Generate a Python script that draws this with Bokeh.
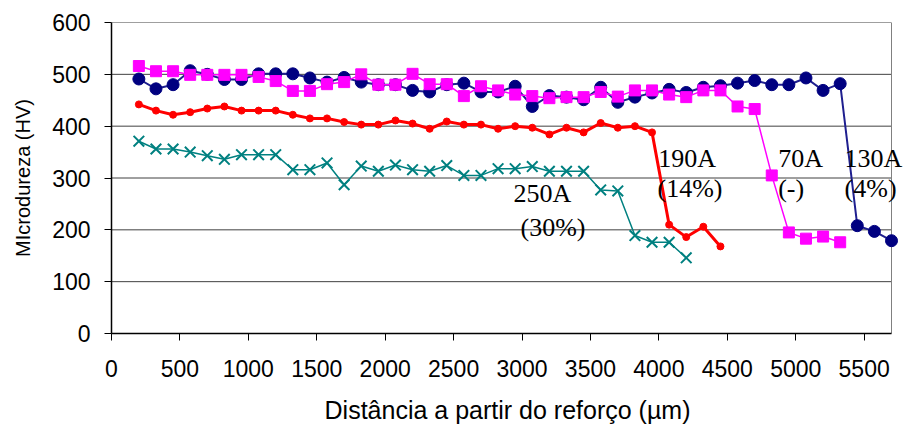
from bokeh.plotting import figure
from bokeh.models import Range1d, FixedTicker, Label
from bokeh.embed import file_html
from bokeh.resources import INLINE

# Distance from reinforcement (µm)
distance = [200, 325, 450, 575, 700, 825, 950, 1075, 1200, 1325, 1450, 1575,
            1700, 1825, 1950, 2075, 2200, 2325, 2450, 2575, 2700, 2825, 2950,
            3075, 3200, 3325, 3450, 3575, 3700, 3825, 3950, 4075, 4200, 4325,
            4450, 4575, 4700, 4825, 4950, 5075, 5200, 5325, 5450, 5575, 5700]

# Microhardness (HV) per series
hv_130A = [491, 472, 480, 507, 500, 490, 490, 501, 501, 501, 493, 485, 494,
           485, 480, 480, 469, 466, 480, 483, 466, 466, 477, 438, 459, 456,
           451, 475, 446, 456, 464, 471, 465, 475, 478, 483, 488, 480, 480,
           493, 469, 482, 208, 197, 179]
hv_70A = [516, 506, 506, 499, 499, 499, 499, 495, 487, 468, 468, 481, 485,
          500, 480, 480, 501, 481, 481, 458, 477, 469, 461, 458, 454, 456,
          456, 466, 457, 469, 469, 461, 456, 469, 469, 438, 433, 305, 195,
          183, 187, 176]
hv_190A = [442, 430, 422, 427, 434, 438, 430, 430, 430, 422, 415, 415, 408,
           403, 403, 411, 405, 395, 409, 403, 403, 395, 400, 397, 384, 397,
           388, 406, 397, 400, 388, 210, 186, 206, 168]
hv_250A = [371, 356, 356, 350, 343, 336, 345, 345, 345, 316, 316, 329, 287,
           323, 313, 325, 316, 313, 324, 305, 305, 318, 318, 322, 313, 313,
           313, 277, 275, 189, 176, 176, 146]

x_ticks = [0, 500, 1000, 1500, 2000, 2500, 3000, 3500, 4000, 4500, 5000, 5500]
y_ticks = [0, 100, 200, 300, 400, 500, 600]
x_min, x_max = 0, 5700
y_min, y_max = 0, 600

# Annotation labels (text, x, y in data units)
label_text = ["250A", "(30%)", "190A", "(14%)", "70A", "(-)", "130A", "(4%)"]
label_x = [2938, 2989, 3995, 3990, 4872, 4872, 5357, 5357]
label_y = [270, 205, 338, 280, 338, 280, 338, 280]

# Plot-area geometry (pixels): the frame runs past the x axis end so that
# the right-hand labels are not clipped; the axis itself stops at x_max.
W, H = 903, 430
left, top, bottom = 111, 22, 97
axis_px = 780                      # pixel length of the 0..x_max axis
frame_px = W - left                # frame width (no right border)
x_end = x_max * frame_px / axis_px

p = figure(width=W, height=H, output_backend="svg", toolbar_location=None,
           x_range=Range1d(x_min, x_end), y_range=Range1d(y_min, y_max),
           min_border_left=left, min_border_right=0, min_border_top=top,
           min_border_bottom=bottom)
p.background_fill_color = "white"
p.border_fill_color = "white"
p.outline_line_color = None

p.xgrid.visible = False
p.ygrid.visible = False

# horizontal gridlines and right border of the plot area, limited to axis extent
p.segment(x0=[x_min] * len(y_ticks), y0=y_ticks, x1=[x_max] * len(y_ticks),
          y1=y_ticks, line_color="#404040", line_width=1)
p.segment(x0=[x_max], y0=[y_min], x1=[x_max], y1=[y_max],
          line_color="#808080", line_width=1)

for ax, ticks in ((p.xaxis[0], x_ticks), (p.yaxis[0], y_ticks)):
    ax.ticker = FixedTicker(ticks=ticks)
    ax.axis_line_color = "black"
    ax.axis_line_width = 1.5
    ax.major_tick_line_color = "black"
    ax.major_tick_out = 7
    ax.major_tick_in = 0
    ax.minor_tick_line_color = None
    ax.major_label_text_font = "Liberation Sans"
    ax.major_label_text_font_size = "23px"
    ax.major_label_text_color = "black"
    ax.axis_label_text_font = "Liberation Sans"
    ax.axis_label_text_font_style = "normal"
    ax.axis_label_text_color = "black"

p.xaxis.bounds = (x_min, x_max)
p.xaxis.axis_label = "Distância a partir do reforço (µm)"
p.xaxis.axis_label_text_font_size = "25px"
p.xaxis.major_label_standoff = 19
p.xaxis.axis_label_standoff = 16
p.yaxis.axis_label = "MIcrodureza (HV)"
p.yaxis.axis_label_text_font_size = "20px"
p.yaxis.major_label_standoff = 14
p.yaxis.axis_label_standoff = 15

# 130A - navy circles
p.line(distance[:len(hv_130A)], hv_130A, line_color="#1F1F8F", line_width=2)
p.scatter(distance[:len(hv_130A)], hv_130A, marker="circle", size=12,
          fill_color="#000080", line_color="#000080")
# 70A - magenta squares
p.line(distance[:len(hv_70A)], hv_70A, line_color="#FF00FF", line_width=1.5)
p.scatter(distance[:len(hv_70A)], hv_70A, marker="square", size=11,
          fill_color="#FF00FF", line_color="#FF00FF")
# 190A - red small circles, thick line
p.line(distance[:len(hv_190A)], hv_190A, line_color="#FF0000", line_width=3)
p.scatter(distance[:len(hv_190A)], hv_190A, marker="circle", size=7,
          fill_color="#FF0000", line_color="#FF0000")
# 250A - teal crosses
p.line(distance[:len(hv_250A)], hv_250A, line_color="#008080", line_width=1.5)
p.scatter(distance[:len(hv_250A)], hv_250A, marker="x", size=15,
          line_color="#008080", line_width=2)

for t, lx, ly in zip(label_text, label_x, label_y):
    p.add_layout(Label(x=lx, y=ly, text=t, text_font="Liberation Serif",
                       text_font_size="26px", text_color="black",
                       text_align="left", text_baseline="middle",
                       level="overlay"))

open("out.html", "w").write(file_html(p, INLINE))
